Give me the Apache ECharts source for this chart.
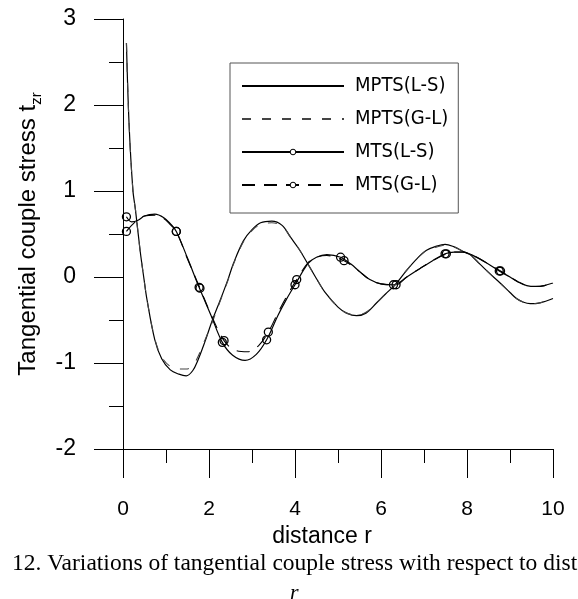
<!DOCTYPE html>
<html>
<head>
<meta charset="utf-8">
<script src="https://cdn.jsdelivr.net/npm/echarts@6/dist/echarts.min.js"></script>
<style>
html,body{margin:0;padding:0;background:#fff;}
#chart{width:578px;height:599px;}
</style>
</head>
<body>
<div id="chart"></div>
<script>
// ---- tick values ----
const xTicks = [0, 2, 4, 6, 8, 10];
const yTicks = [-2, -1, 0, 1, 2, 3];

// ---- series names ----
const seriesNames = ['MPTS(L-S)', 'MPTS(G-L)', 'MTS(L-S)', 'MTS(G-L)'];

// ---- MPTS(L-S) ----
const mptsLS_r = [0.08,0.14,0.23,0.29,0.4,0.49,0.56,0.74,0.9,1.1,1.3,1.47,1.62,1.74,1.9,2.08,2.26,2.44,2.57,2.8,3.0,3.2,3.46,3.7,3.9,4.1,4.29,4.5,4.7,5.0,5.2,5.43,5.65,5.9,6.1,6.33,6.6,6.85,7.06,7.3,7.49,7.7,7.9,8.07,8.3,8.55,8.77,9.0,9.15,9.3,9.47,9.7,10];
const mptsLS_v = [2.72,1.79,1.01,0.78,0.3,-0.03,-0.27,-0.73,-0.95,-1.08,-1.13,-1.15,-1.09,-0.97,-0.76,-0.5,-0.27,-0.03,0.16,0.42,0.55,0.63,0.65,0.6,0.46,0.32,0.16,-0.02,-0.18,-0.35,-0.42,-0.45,-0.42,-0.3,-0.2,-0.09,0.08,0.22,0.31,0.36,0.38,0.35,0.3,0.26,0.15,0.03,-0.07,-0.18,-0.25,-0.29,-0.31,-0.3,-0.25];

// ---- MPTS(G-L) ----
const mptsGL_r = [0.08,0.14,0.23,0.29,0.4,0.49,0.56,0.74,0.9,1.1,1.3,1.47,1.62,1.74,1.9,2.08,2.26,2.44,2.57,2.8,3.0,3.2,3.46,3.7,3.9,4.1,4.29,4.5,4.7,5.0,5.2,5.43,5.65,5.9,6.1,6.33,6.6,6.85,7.06,7.3,7.49,7.7,7.9,8.07,8.3,8.55,8.77,9.0,9.15,9.3,9.47,9.7,10];
const mptsGL_v = [2.72,1.79,1.01,0.78,0.3,-0.03,-0.27,-0.72,-0.93,-1.04,-1.07,-1.07,-1.03,-0.93,-0.74,-0.52,-0.28,-0.04,0.15,0.41,0.54,0.61,0.63,0.59,0.46,0.32,0.16,-0.02,-0.18,-0.35,-0.42,-0.44,-0.41,-0.3,-0.2,-0.09,0.08,0.22,0.31,0.35,0.37,0.35,0.3,0.26,0.15,0.03,-0.07,-0.18,-0.25,-0.29,-0.31,-0.3,-0.25];

// ---- MTS(L-S) ----
const mtsLS_r = [0.08,0.2,0.35,0.5,0.74,0.95,1.1,1.24,1.5,1.77,2.05,2.31,2.55,2.84,3.1,3.34,3.6,3.8,4.0,4.31,4.5,4.74,5.06,5.3,5.51,5.74,6.0,6.29,6.6,6.91,7.2,7.49,7.7,7.9,8.1,8.4,8.75,9.0,9.2,9.39,9.6,9.8,10];
const mtsLS_v = [0.70,0.64,0.66,0.71,0.73,0.69,0.62,0.53,0.22,-0.12,-0.45,-0.76,-0.91,-0.97,-0.9,-0.73,-0.45,-0.26,-0.09,0.16,0.23,0.26,0.23,0.15,0.06,-0.03,-0.08,-0.09,0.0,0.1,0.19,0.27,0.29,0.29,0.26,0.18,0.07,0.0,-0.06,-0.1,-0.11,-0.1,-0.07];
const mtsLS_marks = [0.08,1.24,1.77,2.31,3.34,4.0,5.06,6.29,7.49,8.75];

// ---- MTS(G-L) ----
const mtsGL_r = [0.08,0.2,0.35,0.5,0.74,0.95,1.1,1.24,1.5,1.79,2.05,2.35,2.6,2.9,3.15,3.38,3.6,3.8,4.04,4.31,4.5,4.74,5.14,5.3,5.51,5.74,6.0,6.35,6.6,6.91,7.2,7.52,7.7,7.9,8.1,8.4,8.78,9.0,9.2,9.39,9.6,9.8,10];
const mtsGL_v = [0.53,0.6,0.67,0.71,0.72,0.68,0.61,0.53,0.21,-0.13,-0.44,-0.74,-0.85,-0.87,-0.8,-0.64,-0.42,-0.23,-0.03,0.17,0.23,0.25,0.19,0.14,0.06,-0.03,-0.08,-0.09,0.0,0.1,0.19,0.27,0.29,0.29,0.26,0.18,0.07,0.0,-0.06,-0.1,-0.11,-0.1,-0.07];
const mtsGL_marks = [0.08,1.24,1.79,2.35,3.38,4.04,5.14,6.35,7.52,8.78];

function pairs(rs, vs) { return rs.map((r, i) => [r, vs[i]]); }
function marked(rs, vs, marks) {
  return rs.map((r, i) => ({ value: [r, vs[i]], symbol: marks.indexOf(r) >= 0 ? 'circle' : 'none' }));
}

const chart = echarts.init(document.getElementById('chart'), null, { renderer: 'canvas' });
const sans = "'Liberation Sans', Arial, sans-serif";
const narrow = "'DejaVu Sans Condensed', 'Liberation Sans', sans-serif";
const serif = "'Liberation Serif', 'Times New Roman', serif";
const legendMarker = { color: '#fff', borderColor: '#000', borderWidth: 1 };

const option = {
  animation: false,
  backgroundColor: '#fff',
  title: [
    { text: '12. Variations of tangential couple stress with respect to dist', left: 7, top: 547,
      textStyle: { fontFamily: serif, fontSize: 23.5, fontWeight: 'normal', color: '#000' } },
    { text: 'r', left: 285, top: 577,
      textStyle: { fontFamily: serif, fontSize: 22, fontStyle: 'italic', fontWeight: 'normal', color: '#000' } }
  ],
  grid: { left: 123, right: 25, top: 19, bottom: 150, containLabel: false },
  legend: {
    orient: 'vertical', left: 230, top: 63,
    padding: [13, 10, 18, 11],
    borderColor: '#555', borderWidth: 1,
    itemWidth: 102, itemHeight: 7, itemGap: 13,
    textStyle: { fontFamily: narrow, fontSize: 20, color: '#000', padding: [0, 0, 0, 6] },
    data: [
      { name: seriesNames[0], itemStyle: { opacity: 0 } },
      { name: seriesNames[1], itemStyle: { opacity: 0 } },
      { name: seriesNames[2], itemStyle: legendMarker },
      { name: seriesNames[3], itemStyle: legendMarker }
    ]
  },
  xAxis: {
    type: 'value', min: xTicks[0], max: xTicks[xTicks.length - 1], interval: 2,
    name: 'distance r', nameLocation: 'middle', nameGap: 68,
    nameTextStyle: { fontFamily: sans, fontSize: 23, color: '#000', padding: [0, 32, 0, 0] },
    axisLine: { onZero: false, lineStyle: { color: '#000', width: 1 } },
    axisTick: { show: true, length: 29, lineStyle: { color: '#000', width: 1 } },
    minorTick: { show: true, splitNumber: 2, length: 14, lineStyle: { color: '#000', width: 1 } },
    splitLine: { show: false },
    axisLabel: { fontFamily: sans, fontSize: 21, color: '#000', margin: 50 }
  },
  yAxis: {
    type: 'value', min: yTicks[0], max: yTicks[yTicks.length - 1], interval: 1,
    name: 'Tangential couple stress t{sub|zr}', nameLocation: 'middle', nameGap: 76, nameRotate: 90,
    nameTextStyle: { fontFamily: sans, fontSize: 24, color: '#000', lineHeight: 32,
      rich: { sub: { fontFamily: sans, fontSize: 15, color: '#000', verticalAlign: 'bottom' } } },
    axisLine: { show: true, lineStyle: { color: '#000', width: 1 } },
    axisTick: { show: true, length: 29, lineStyle: { color: '#000', width: 1 } },
    minorTick: { show: true, splitNumber: 2, length: 14, lineStyle: { color: '#000', width: 1 } },
    splitLine: { show: false },
    axisLabel: { fontFamily: sans, fontSize: 23, color: '#000', margin: 47 }
  },
  series: [
    { name: seriesNames[0], type: 'line', data: pairs(mptsLS_r, mptsLS_v), smooth: 0.35,
      symbol: 'none', lineStyle: { color: '#000', width: 1.2, type: 'solid' }, itemStyle: { color: '#000' } },
    { name: seriesNames[2], type: 'line', data: marked(mtsLS_r, mtsLS_v, mtsLS_marks), smooth: 0.35,
      symbol: 'circle', symbolSize: 8, showSymbol: true,
      lineStyle: { color: '#000', width: 1.2, type: 'solid' },
      itemStyle: { color: 'rgba(255,255,255,0)', borderColor: '#000', borderWidth: 1.3 } },
    { name: seriesNames[1], type: 'line', data: pairs(mptsGL_r, mptsGL_v), smooth: 0.35,
      symbol: 'none', lineStyle: { color: '#444', width: 1.1, type: [9, 11] }, itemStyle: { color: '#444' } },
    { name: seriesNames[3], type: 'line', data: marked(mtsGL_r, mtsGL_v, mtsGL_marks), smooth: 0.35,
      symbol: 'circle', symbolSize: 8, showSymbol: true,
      lineStyle: { color: '#000', width: 1.1, type: [13, 9] },
      itemStyle: { color: 'rgba(255,255,255,0)', borderColor: '#000', borderWidth: 1.3 } }
  ]
};
chart.setOption(option);
</script>
</body>
</html>
